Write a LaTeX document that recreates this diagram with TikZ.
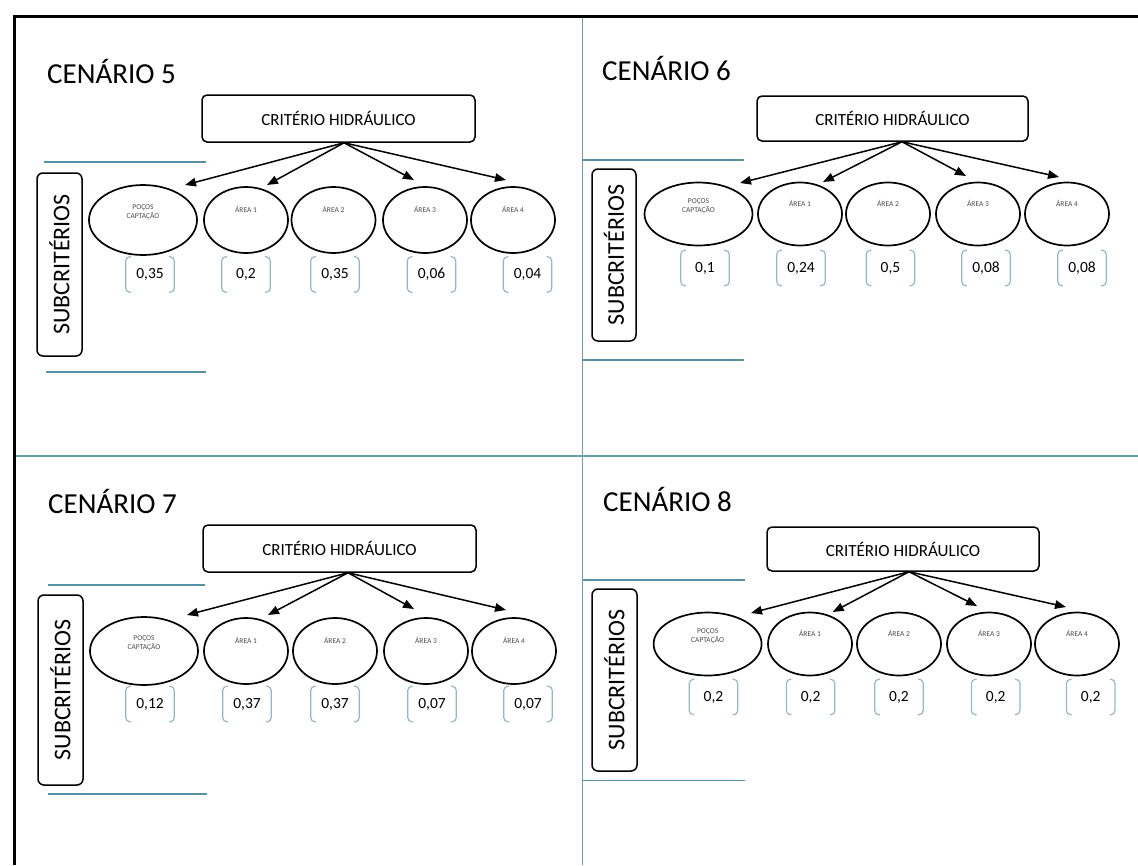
\documentclass[tikz,border=0pt]{standalone}
\usepackage{fontspec}
\setmainfont{Carlito}
\usetikzlibrary{arrows.meta,shapes.geometric}
\definecolor{gridblue}{RGB}{104,160,176}
\definecolor{rulerblue}{RGB}{84,146,164}
\definecolor{brk}{RGB}{150,184,202}

\tikzset{
  title/.style={anchor=west, inner sep=0pt, font=\fontsize{29}{30}\selectfont},
  critbox/.style={draw, rounded corners=5pt, line width=1.5pt, inner sep=0pt,
    minimum width=273pt, minimum height=47pt, font=\fontsize{17}{18}\selectfont},
  sidebox/.style={draw, rounded corners=6pt, line width=1.5pt, inner sep=0pt,
    rotate=90, minimum height=45pt, font=\fontsize{24}{24}\selectfont},
  subell/.style={draw, ellipse, line width=1.7pt, inner sep=0pt,
    minimum width=84pt, minimum height=66pt},
  wideell/.style={subell, minimum width=108pt, minimum height=70pt},
  elab/.style={font=\fontsize{7.5}{9.5}\selectfont, text=black!70, align=center, inner sep=0pt},
  wbox/.style={minimum width=48pt, minimum height=35pt, inner sep=0pt,
    font=\fontsize{15.5}{16}\selectfont},
  brkline/.style={draw=brk, line width=1.2pt, rounded corners=4pt},
  arr/.style={-{Triangle[length=11pt,width=8.5pt]}, line width=1.5pt},
  sepline/.style={draw=rulerblue, line width=1.4pt},
  divider/.style={draw=gridblue, line width=1.1pt},
}

% subcriterion ellipse with its small caption near the top
\newcommand\critell[6]{%
  \node[#4] (#1) at (#2,#3) {};
  \node[elab] (#1t) at ([yshift=#6]#1.center) {#5};}
% weight value framed by a pair of brackets
\newcommand\weight[4]{%
  \node[wbox] (#1) at (#2,#3) {#4};
  \draw[brkline] ([xshift=5pt]#1.north west) -- (#1.north west) -- (#1.south west) -- ([xshift=5pt]#1.south west);
  \draw[brkline] ([xshift=-5pt]#1.north east) -- (#1.north east) -- (#1.south east) -- ([xshift=-5pt]#1.south east);}

\begin{document}
\begin{tikzpicture}[x=1pt,y=-1pt]
\fill[white] (0,0) rectangle (1138,865);
\useasboundingbox (0,0) rectangle (1138,865);

% frame and quadrant dividers
\draw[divider] (582.5,16) -- (582.5,865);
\draw[divider] (14,456) -- (1138,456);
\draw[line width=3pt] (14,865) -- (14,16) -- (1138,16);

% ---------------- CENÁRIO 5 ----------------
\node[title] (ta) at (47,71) {CENÁRIO 5};
\draw[sepline] (44,162) -- (206,162);
\draw[sepline] (46,372) -- (206,372);
\node[sidebox, minimum width=183pt] (sa) at (59.5,264.5) {SUBCRITÉRIOS};
\node[critbox] (ba) at (338.5,118.5) {CRITÉRIO HIDRÁULICO};
\critell{a1}{143}{220}{wideell}{POÇOS\\CAPTAÇÃO}{8pt}
\critell{a2}{246}{220}{subell}{ÁREA 1}{11pt}
\critell{a3}{333.5}{220}{subell}{ÁREA 2}{11pt}
\critell{a4}{425}{220}{subell}{ÁREA 3}{11pt}
\critell{a5}{513}{220}{subell}{ÁREA 4}{11pt}
\weight{wa1}{150}{274.5}{0,35}
\weight{wa2}{246}{274.5}{0,2}
\weight{wa3}{335}{274.5}{0,35}
\weight{wa4}{431.5}{274.5}{0,06}
\weight{wa5}{527.5}{274.5}{0,04}
\draw[arr] ([xshift=5.5pt]ba.south) -- ([shift={(42,-35)}]a1.center);
\draw[arr] ([xshift=5.5pt]ba.south) -- ([shift={(21,-35)}]a2.center);
\draw[arr] ([xshift=5.5pt]ba.south) -- ([shift={(-11,-40)}]a4.center);
\draw[arr] ([xshift=5.5pt]ba.south) -- ([shift={(-7,-40)}]a5.center);

% ---------------- CENÁRIO 6 ----------------
\node[title] (tb) at (602,68.5) {CENÁRIO 6};
\draw[sepline] (583,160) -- (744,160);
\draw[sepline] (583,360) -- (744,360);
\node[sidebox, minimum width=172pt, minimum height=44pt] (sb) at (614,255) {SUBCRITÉRIOS};
\node[critbox, minimum width=271pt, minimum height=45pt] (bb) at (892.5,118.5) {CRITÉRIO HIDRÁULICO};
\critell{b1}{698.5}{214}{wideell, minimum height=63pt}{POÇOS\\CAPTAÇÃO}{8pt}
\critell{b2}{800}{214}{subell, minimum height=63pt}{ÁREA 1}{11pt}
\critell{b3}{888}{214}{subell, minimum height=63pt}{ÁREA 2}{11pt}
\critell{b4}{978}{214}{subell, minimum height=63pt}{ÁREA 3}{11pt}
\critell{b5}{1067}{214}{subell, minimum height=63pt}{ÁREA 4}{11pt}
\weight{wb1}{705}{268}{0,1}
\weight{wb2}{801}{268}{0,24}
\weight{wb3}{890.5}{268}{0,5}
\weight{wb4}{986}{268}{0,08}
\weight{wb5}{1082}{268}{0,08}
\draw[arr] ([xshift=9.5pt]bb.south) -- ([shift={(41.5,-31)}]b1.center);
\draw[arr] ([xshift=9.5pt]bb.south) -- ([shift={(23,-32)}]b2.center);
\draw[arr] ([xshift=9.5pt]bb.south) -- ([shift={(-12,-38)}]b4.center);
\draw[arr] ([xshift=9.5pt]bb.south) -- ([shift={(-8,-37)}]b5.center);

% ---------------- CENÁRIO 7 ----------------
\node[title] (tc) at (48,501) {CENÁRIO 7};
\draw[sepline] (48,585) -- (205,585);
\draw[sepline] (48,794) -- (207,794);
\node[sidebox, minimum width=190pt] (sc) at (60.5,690) {SUBCRITÉRIOS};
\node[critbox] (bc) at (339.5,548.5) {CRITÉRIO HIDRÁULICO};
\critell{c1}{144}{651}{wideell, minimum height=68pt}{POÇOS\\CAPTAÇÃO}{8pt}
\critell{c2}{246}{651}{subell}{ÁREA 1}{11pt}
\critell{c3}{335}{651}{subell}{ÁREA 2}{11pt}
\critell{c4}{426}{651}{subell}{ÁREA 3}{11pt}
\critell{c5}{514}{651}{subell}{ÁREA 4}{11pt}
\weight{wc1}{150}{704}{0,12}
\weight{wc2}{247}{704}{0,37}
\weight{wc3}{335}{704}{0,37}
\weight{wc4}{432}{704}{0,07}
\weight{wc5}{528}{704}{0,07}
\draw[arr] ([xshift=8.5pt]bc.south) -- ([shift={(43,-36)}]c1.center);
\draw[arr] ([xshift=8.5pt]bc.south) -- ([shift={(22,-36)}]c2.center);
\draw[arr] ([xshift=8.5pt]bc.south) -- ([shift={(-12,-42)}]c4.center);
\draw[arr] ([xshift=8.5pt]bc.south) -- ([shift={(-8,-41)}]c5.center);

% ---------------- CENÁRIO 8 ----------------
\node[title] (td) at (603,499.5) {CENÁRIO 8};
\draw[sepline] (583,580) -- (745,580);
\draw[sepline] (583,780.5) -- (745,780.5);
\node[sidebox, minimum width=182pt] (sd) at (614.5,680) {SUBCRITÉRIOS};
\node[critbox, minimum width=272pt, minimum height=44pt] (bd) at (903,549) {CRITÉRIO HIDRÁULICO};
\critell{d1}{707.6}{644}{wideell, minimum height=63pt}{POÇOS\\CAPTAÇÃO}{8pt}
\critell{d2}{810}{644}{subell, minimum height=63pt}{ÁREA 1}{11pt}
\critell{d3}{899}{644}{subell, minimum height=63pt}{ÁREA 2}{11pt}
\critell{d4}{989}{644}{subell, minimum height=63pt}{ÁREA 3}{11pt}
\critell{d5}{1077}{644}{subell, minimum height=63pt}{ÁREA 4}{11pt}
\weight{wd1}{713.5}{697}{0,2}
\weight{wd2}{810.6}{697}{0,2}
\weight{wd3}{899}{697}{0,2}
\weight{wd4}{995.7}{697}{0,2}
\weight{wd5}{1090.7}{697}{0,2}
\draw[arr] ([xshift=6pt]bd.south) -- ([shift={(43.4,-31)}]d1.center);
\draw[arr] ([xshift=6pt]bd.south) -- ([shift={(22.7,-32)}]d2.center);
\draw[arr] ([xshift=6pt]bd.south) -- ([shift={(-12,-38)}]d4.center);
\draw[arr] ([xshift=6pt]bd.south) -- ([shift={(-11,-37)}]d5.center);
\end{tikzpicture}
\end{document}
